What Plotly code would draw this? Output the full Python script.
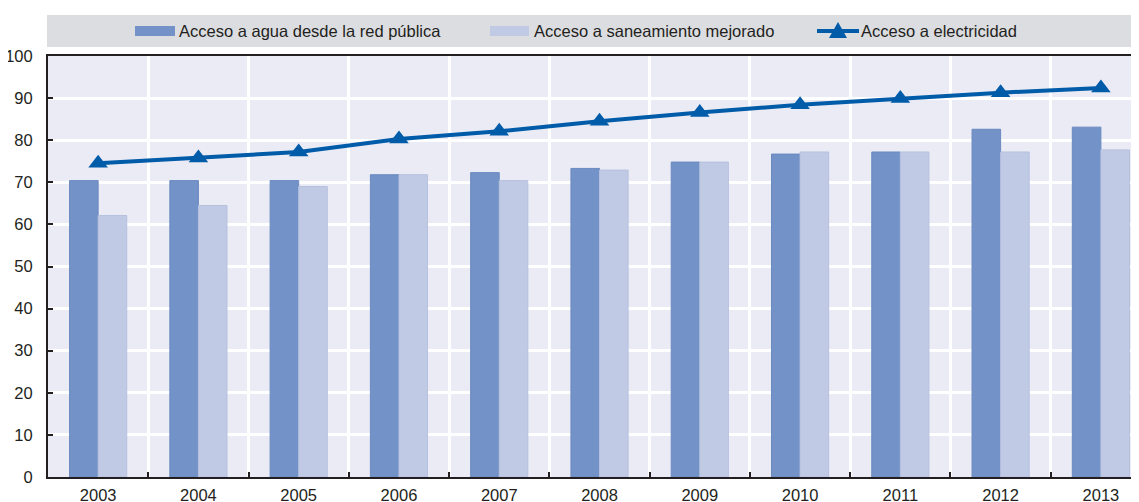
import plotly.graph_objects as go

years = ["2003", "2004", "2005", "2006", "2007", "2008", "2009", "2010", "2011", "2012", "2013"]
agua = [70.4, 70.4, 70.4, 71.8, 72.3, 73.3, 74.8, 76.7, 77.2, 82.6, 83.1]
saneamiento = [62.1, 64.5, 69.0, 71.8, 70.4, 72.9, 74.8, 77.2, 77.2, 77.2, 77.7]
electricidad = [74.5, 75.8, 77.2, 80.3, 82.1, 84.5, 86.6, 88.4, 89.9, 91.3, 92.4]

names = ["Acceso a agua desde la red pública", "Acceso a saneamiento mejorado", "Acceso a electricidad"]

FONT = "Liberation Sans, Arial, sans-serif"
FS = 16.5
TXT = "#231F20"
DARK = "#7392C7"
LIGHT = "#C0CAE5"
LINE = "#005BA8"

OFF = 8  # page body margin offset
W, H = 1139 - OFF, 502 - OFF
L, R, T, B = 40, 0, 48, 25
PW, PH = W - L - R, H - T - B


def px(x):
    # x in browser-window pixels -> paper fraction
    return (x - OFF - L) / PW


def py(y):
    # y in browser-window pixels -> paper fraction
    return (H - B - (y - OFF)) / PH


fig = go.Figure()
fig.add_trace(go.Bar(x=years, y=agua, name=names[0], showlegend=False,
                     marker=dict(color=DARK, line=dict(color="#6A8AC0", width=1))))
fig.add_trace(go.Bar(x=years, y=saneamiento, name=names[1], showlegend=False,
                     marker=dict(color=LIGHT, line=dict(color="#B6C1DF", width=1))))
fig.add_trace(go.Scatter(x=years, y=electricidad, name=names[2], showlegend=False,
                         mode="lines+markers",
                         line=dict(color=LINE, width=4),
                         marker=dict(symbol="triangle-up", size=17, color=LINE)))

# legend band
fig.add_shape(type="rect", xref="paper", yref="paper",
              x0=px(47), x1=1.0, y0=py(47), y1=py(15),
              fillcolor="#DCDDE0", line=dict(width=0), layer="below")
# legend swatches
fig.add_shape(type="rect", xref="paper", yref="paper",
              x0=px(135), x1=px(175), y0=py(36), y1=py(26),
              fillcolor=DARK, line=dict(width=0))
fig.add_shape(type="rect", xref="paper", yref="paper",
              x0=px(490), x1=px(529), y0=py(36), y1=py(26),
              fillcolor=LIGHT, line=dict(width=0))
fig.add_shape(type="line", xref="paper", yref="paper",
              x0=px(817), x1=px(859), y0=py(31), y1=py(31),
              line=dict(color=LINE, width=4))
fig.add_shape(type="path", xref="paper", yref="paper",
              xsizemode="pixel", ysizemode="pixel",
              xanchor=px(838), yanchor=py(31),
              path="M -9,-7 L 9,-7 L 0,9 Z",
              fillcolor=LINE, line=dict(width=0))

for xs, txt in zip([178, 533, 860], names):
    fig.add_annotation(xref="paper", yref="paper", x=px(xs), y=py(31),
                       xanchor="left", yanchor="middle", text=txt, showarrow=False,
                       font=dict(family=FONT, size=FS, color=TXT), borderpad=0)

fig.update_layout(
    width=W, height=H,
    margin=dict(l=L, r=R, t=T, b=B, autoexpand=False),
    paper_bgcolor="white",
    plot_bgcolor="#EAEBF5",
    barmode="group",
    bargap=0.43,
    bargroupgap=0,
    font=dict(family=FONT, size=FS, color=TXT),
    showlegend=False,
    xaxis=dict(type="category", range=[-0.5, 10.38], tickson="boundaries",
               showgrid=True, gridcolor="white", gridwidth=3,
               ticks="inside", ticklen=5, tickwidth=2, tickcolor=TXT,
               showline=True, linecolor=TXT, linewidth=2, mirror=True,
               automargin=False, ticklabelstandoff=2,
               tickfont=dict(family=FONT, size=FS, color=TXT)),
    yaxis=dict(range=[0, 100], dtick=10, showgrid=True, gridcolor="white", gridwidth=3,
               ticks="inside", ticklen=5, tickwidth=2, tickcolor=TXT,
               showline=True, linecolor=TXT, linewidth=2,
               zeroline=False, automargin=False, ticklabelstandoff=10,
               tickfont=dict(family=FONT, size=FS, color=TXT)),
)

fig.write_html("out.html")
